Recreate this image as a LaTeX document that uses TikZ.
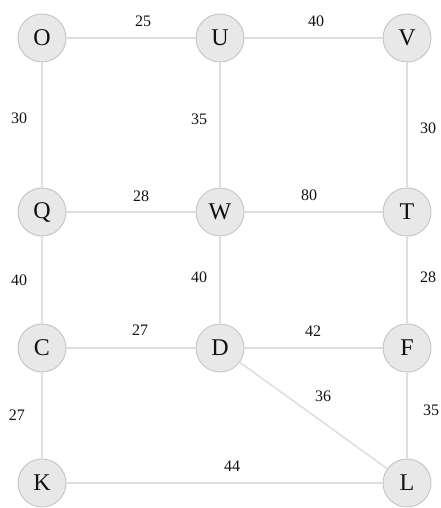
\documentclass[tikz,border=0pt]{standalone}
\usepackage{fontspec}
\setmainfont{Liberation Serif}
\definecolor{nodefill}{HTML}{E8E8E8}
\definecolor{nodeline}{HTML}{C4C4C4}
\definecolor{edgecol}{HTML}{DEDEDE}
\definecolor{txt}{HTML}{111111}
\begin{document}
\begin{tikzpicture}[x=1pt,y=-1pt,
  vert/.style={circle,draw=nodeline,fill=nodefill,line width=0.9pt,minimum size=48pt,inner sep=0pt,font=\fontsize{24}{24}\selectfont,text=txt},
  edge/.style={draw=edgecol,line width=1.6pt},
  wlab/.style={font=\fontsize{16}{16}\selectfont,text=txt,inner sep=0pt}]
\useasboundingbox (0,0) rectangle (441,508);
\node[vert] (O) at (42,38) {O};
\node[vert] (U) at (220,38) {U};
\node[vert] (V) at (407,38) {V};
\node[vert] (Q) at (42,212) {Q};
\node[vert] (W) at (220,212) {W};
\node[vert] (T) at (407,212) {T};
\node[vert] (C) at (42,348) {C};
\node[vert] (D) at (220,348) {D};
\node[vert] (F) at (407,348) {F};
\node[vert] (K) at (42,483) {K};
\node[vert] (L) at (407,483) {L};
\path[edge] (O) -- (U);
\path[edge] (U) -- (V);
\path[edge] (O) -- (Q);
\path[edge] (U) -- (W);
\path[edge] (V) -- (T);
\path[edge] (Q) -- (W);
\path[edge] (W) -- (T);
\path[edge] (Q) -- (C);
\path[edge] (W) -- (D);
\path[edge] (T) -- (F);
\path[edge] (C) -- (D);
\path[edge] (D) -- (F);
\path[edge] (D) -- (L);
\path[edge] (C) -- (K);
\path[edge] (F) -- (L);
\path[edge] (K) -- (L);
\node[wlab] (l1) at (143,21) {25};
\node[wlab] (l2) at (316,21) {40};
\node[wlab] (l3) at (19,118) {30};
\node[wlab] (l4) at (199,119) {35};
\node[wlab] (l5) at (428,128) {30};
\node[wlab] (l6) at (141,196) {28};
\node[wlab] (l7) at (309,195) {80};
\node[wlab] (l8) at (19,280) {40};
\node[wlab] (l9) at (199,277) {40};
\node[wlab] (l10) at (428,277) {28};
\node[wlab] (l11) at (140,330) {27};
\node[wlab] (l12) at (313,331) {42};
\node[wlab] (l13) at (323,396) {36};
\node[wlab] (l14) at (17,415) {27};
\node[wlab] (l15) at (431,410) {35};
\node[wlab] (l16) at (232,466) {44};
\end{tikzpicture}
\end{document}
